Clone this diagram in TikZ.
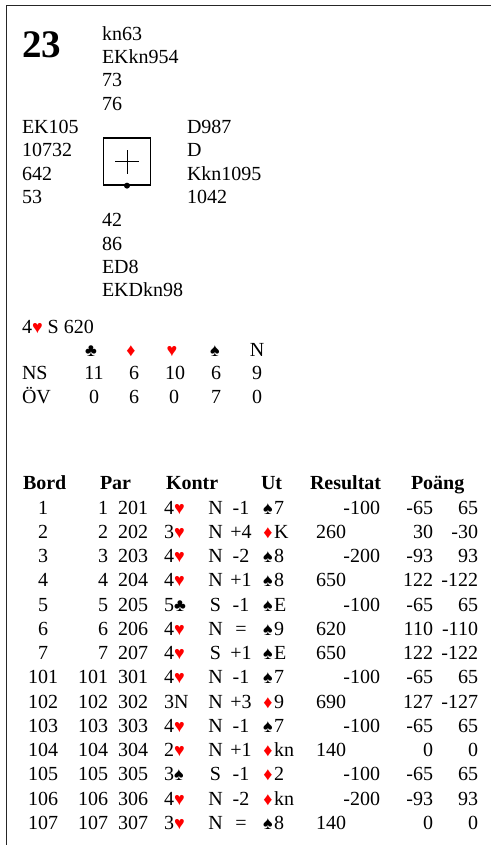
\documentclass[tikz,border=0pt]{standalone}
\usepackage{fontspec}
\setmainfont{Liberation Serif}
\newcommand{\suitsz}[1]{{\fontsize{18bp}{18bp}\selectfont #1}}
\newcommand{\suitS}{\suitsz{♠}}
\newcommand{\suitC}{\suitsz{♣}}
\newcommand{\suitH}{\textcolor{red}{\suitsz{♥}}}
\newcommand{\suitD}{\textcolor{red}{\suitsz{♦}}}
\newcommand{\leadcard}[2]{\makebox[12bp][c]{#1}#2}
\tikzset{
  txt/.style={inner sep=0pt, outer sep=0pt, font=\fontsize{20bp}{23bp}\selectfont},
  L/.style={txt, anchor=base west},
  R/.style={txt, anchor=base east},
  C/.style={txt, anchor=base},
  hd/.style={L, font=\fontsize{20bp}{23bp}\selectfont\bfseries},
  frameline/.style={line width=1.5bp, black!85},
  boardbox/.style={draw, line width=1.3bp, minimum size=47bp, inner sep=0pt},
}
\begin{document}
\begin{tikzpicture}[x=1bp,y=-1bp]
\useasboundingbox (0,0) rectangle (491,845);
\draw[frameline] (6.5,845) -- (6.5,5.5) -- (491,5.5);
% board number
\node[txt, anchor=base west, font=\fontsize{39bp}{39bp}\selectfont\bfseries] (nr) at (22,57) {23};
% hands
\foreach \t [count=\k from 0] in {kn63,EKkn954,73,76}
  \node[L] (north\k) at (102,{40+23.36*\k}) {\t};
\foreach \t [count=\k from 0] in {EK105,10732,642,53}
  \node[L] (west\k) at (22,{133.4+23.36*\k}) {\t};
\foreach \t [count=\k from 0] in {D987,D,Kkn1095,1042}
  \node[L] (east\k) at (187,{133.4+23.36*\k}) {\t};
\foreach \t [count=\k from 0] in {42,86,ED8,EKDkn98}
  \node[L] (south\k) at (102,{226.9+23.36*\k}) {\t};
% board diagram
\node[boardbox] (board) at (127,161.5) {};
\draw[line width=1bp] ([xshift=-12bp]board.center) -- ([xshift=12bp]board.center);
\draw[line width=1bp] ([yshift=-12bp]board.center) -- ([yshift=12bp]board.center);
\fill (board.south) circle (3bp);
% contract
\node[L] (contract) at (22,333) {4\suitH{} S 620};
% makeable contracts
\node[C] (hc) at (91,356) {\suitC};
\node[C] (hd) at (131,356) {\suitD};
\node[C] (hh) at (172,356) {\suitH};
\node[C] (hs) at (215,356) {\suitS};
\node[C] (hn) at (257,356) {N};
\node[L] (ns) at (22,379) {NS};
\node[L] (ov) at (22,403) {ÖV};
\foreach \v/\xx [count=\k] in {11/94,6/134,10/175,6/216,9/257}
  \node[C] (ns\k) at (\xx,379) {\v};
\foreach \v/\xx [count=\k] in {0/94,6/134,0/174,7/216,0/257}
  \node[C] (ov\k) at (\xx,403) {\v};
% table header
\node[hd] (hbord) at (23,489) {Bord};
\node[hd] (hpar) at (100,489) {Par};
\node[hd] (hkontr) at (166,489) {Kontr};
\node[hd] (hut) at (261,489) {Ut};
\node[hd] (hres) at (310,489) {Resultat};
\node[hd] (hpoang) at (411,489) {Poäng};
% table rows
\foreach \b/\pa/\pb/\c/\d/\r/\l/\rp/\rn/\qa/\qb [count=\k from 0] in {
 1/1/201/{4\suitH}/N/-1/{\leadcard{\suitS}{7}}//-100/-65/65,
 2/2/202/{3\suitH}/N/+4/{\leadcard{\suitD}{K}}/260//30/-30,
 3/3/203/{4\suitH}/N/-2/{\leadcard{\suitS}{8}}//-200/-93/93,
 4/4/204/{4\suitH}/N/+1/{\leadcard{\suitS}{8}}/650//122/-122,
 5/5/205/{5\suitC}/S/-1/{\leadcard{\suitS}{E}}//-100/-65/65,
 6/6/206/{4\suitH}/N/=/{\leadcard{\suitS}{9}}/620//110/-110,
 7/7/207/{4\suitH}/S/+1/{\leadcard{\suitS}{E}}/650//122/-122,
 101/101/301/{4\suitH}/N/-1/{\leadcard{\suitS}{7}}//-100/-65/65,
 102/102/302/{3N}/N/+3/{\leadcard{\suitD}{9}}/690//127/-127,
 103/103/303/{4\suitH}/N/-1/{\leadcard{\suitS}{7}}//-100/-65/65,
 104/104/304/{2\suitH}/N/+1/{\leadcard{\suitD}{kn}}/140//0/0,
 105/105/305/{3\suitS}/S/-1/{\leadcard{\suitD}{2}}//-100/-65/65,
 106/106/306/{4\suitH}/N/-2/{\leadcard{\suitD}{kn}}//-200/-93/93,
 107/107/307/{3\suitH}/N/=/{\leadcard{\suitS}{8}}/140//0/0}{
  \pgfmathsetmacro\yy{514+24.25*\k}
  \node[C] (bord\k) at (43,\yy) {\b};
  \node[R] (pa\k) at (108,\yy) {\pa};
  \node[R] (pb\k) at (148,\yy) {\pb};
  \node[L] (con\k) at (164,\yy) {\c};
  \node[C] (dec\k) at (215.5,\yy) {\d};
  \node[C] (tr\k) at (241,\yy) {\r};
  \node[L] (ut\k) at (262,\yy) {\l};
  \node[L] (rp\k) at (316,\yy) {\rp};
  \node[R] (rn\k) at (380,\yy) {\rn};
  \node[R] (qa\k) at (433,\yy) {\qa};
  \node[R] (qb\k) at (478,\yy) {\qb};
}
\end{tikzpicture}
\end{document}
